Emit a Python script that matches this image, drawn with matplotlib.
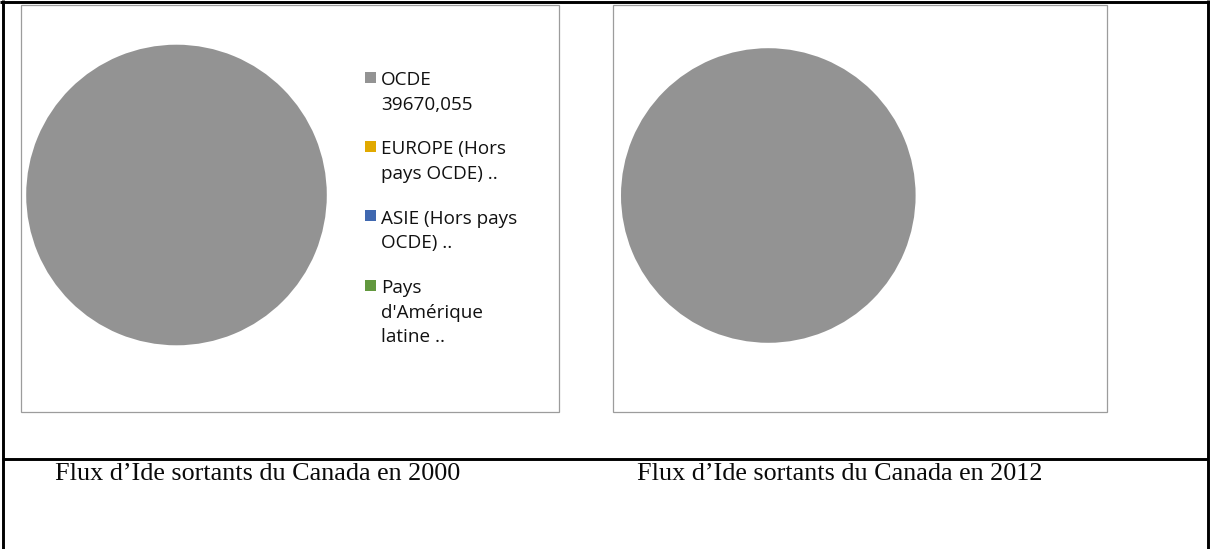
import matplotlib
matplotlib.use("Agg")
import matplotlib.pyplot as plt
from matplotlib.patches import Rectangle
from matplotlib.lines import Line2D

# ---------------- data ----------------
categories = ["OCDE", "EUROPE (Hors pays OCDE)", "ASIE (Hors pays OCDE)",
              "Pays d'Amérique latine"]
legend_labels = ["OCDE\n39670,055", "EUROPE (Hors\npays OCDE) ..",
                 "ASIE (Hors pays\nOCDE) ..", "Pays\nd'Amérique\nlatine .."]
values_2000 = [39670.055, 0, 0, 0]      # ".." = not available
values_2012 = [100, 0, 0, 0]            # only OCDE visible (100 %)
colors = ["#939393", "#E1A900", "#4068B0", "#62983E"]
captions = ["Flux d\u2019Ide sortants du Canada en 2000",
            "Flux d\u2019Ide sortants du Canada en 2012"]

W, H = 1210, 549
fig = plt.figure(figsize=(W / 100, H / 100), dpi=100)
fig.patch.set_facecolor("white")

# background "document" axes in pixel coordinates
bg = fig.add_axes([0, 0, 1, 1], zorder=0)
bg.set_xlim(0, W)
bg.set_ylim(H, 0)
bg.axis("off")

# chart frames
for (x0, x1) in [(21, 559), (613, 1107)]:
    bg.add_patch(Rectangle((x0, 4.5), x1 - x0, 412 - 4.5, fill=False,
                           edgecolor="#9C9C9C", linewidth=0.9))

# table lines
blk = dict(color="black", linewidth=2.1, solid_capstyle="butt")
bg.add_line(Line2D([0, W], [2, 2], **blk))
bg.add_line(Line2D([2.5, 2.5], [0, H], **blk))
bg.add_line(Line2D([1207.5, 1207.5], [0, H], **blk))
bg.add_line(Line2D([2, 1208], [458.5, 458.5], **blk))

# captions
for cx, txt in zip([257.5, 839.5], captions):
    bg.text(cx, 480, txt, ha="center", va="baseline",
            family="Liberation Serif", fontsize=18.8, color="#0a0a0a")


def pie_axes(cx, cy, r):
    ax = fig.add_axes([(cx - r) / W, (H - cy - r) / H, 2 * r / W, 2 * r / H],
                      zorder=2)
    return ax


for (cx, cy, r), vals in zip([(176.5, 195, 150.3), (768.3, 195.5, 147.3)],
                             [values_2000, values_2012]):
    ax = pie_axes(cx, cy, r)
    ax.pie(vals, colors=colors, startangle=90, counterclock=False, radius=1,
           wedgeprops=dict(linewidth=0))
    ax.set_xlim(-1, 1)
    ax.set_ylim(-1, 1)
    ax.set_aspect("equal")
    ax.axis("off")

# legend for the 2000 chart (drawn in pixel coordinates)
entry_top = [71.7, 141.0, 210.2, 280.0]
line_pitch = 24.5
cap_h = 13.3
for top, lab, col in zip(entry_top, legend_labels, colors):
    bg.add_patch(Rectangle((364.5, top), 11, 11, facecolor=col,
                           edgecolor="none", zorder=3))
    for i, line in enumerate(lab.split("\n")):
        bg.text(380.7, top + cap_h + i * line_pitch, line, ha="left",
                va="baseline", family="Open Sans", fontsize=13.6,
                color="#111111")

fig.savefig("out.png", dpi=100, facecolor="white")
